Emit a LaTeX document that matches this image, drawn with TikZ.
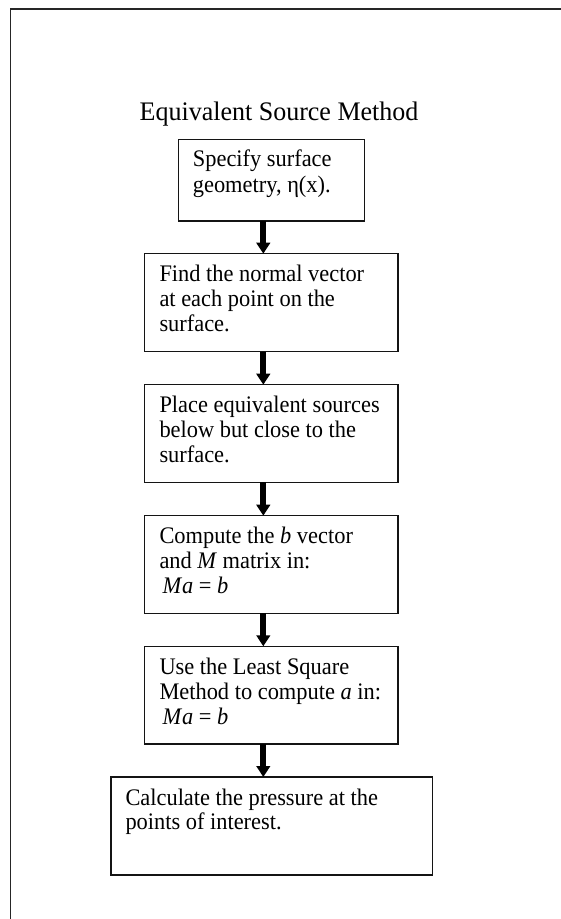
\documentclass[tikz,border=0pt]{standalone}
\usepackage{fontspec}
\setmainfont{Liberation Serif}
\usetikzlibrary{arrows.meta,calc}

% text lines set top-aligned, so the node's base is the first baseline
\newcommand{\steplines}[1]{\scalebox{1}[1.06]{\begin{tabular}[t]{@{}l@{}}#1\end{tabular}}}

\tikzset{
  stepbox/.style={draw=black!92, line width=1.2pt, inner sep=0pt, outer sep=0pt, anchor=north west},
  steptext/.style={anchor=base west, inner sep=0pt,
    font=\fontsize{22.4}{23.5}\selectfont},
  flow/.style={line width=6pt, black, -{Triangle[width=13.5pt,length=11pt]}},
}

\begin{document}
\begin{tikzpicture}[x=1pt, y=-1pt]
  \useasboundingbox (0,0) rectangle (561,919);
  \clip (0,0) rectangle (561,919);

  % outer frame (only its top and left edges fall on the page)
  \draw[line width=1.1pt, black!85] (10.5,940) -- (10.5,9) -- (580,9);

  % heading
  \node[anchor=base, inner sep=0pt, font=\fontsize{26}{30}\selectfont] (title) at (279,120.5) {\scalebox{1}[1.03]{Equivalent Source Method}};

  % process boxes
  \node[stepbox, minimum width=186.4pt, minimum height=81.7pt] (b1) at (178.3,139.3) {};
  \node[stepbox, minimum width=253.3pt, minimum height=98pt]   (b2) at (144.7,253.7) {};
  \node[stepbox, minimum width=253.3pt, minimum height=97.6pt] (b3) at (144.7,384.7) {};
  \node[stepbox, minimum width=253.3pt, minimum height=97.6pt] (b4) at (144.7,515.7) {};
  \node[stepbox, minimum width=253.3pt, minimum height=97.7pt] (b5) at (144.7,646.3) {};
  \node[stepbox, minimum width=321.3pt, minimum height=98pt]   (b6) at (111,777) {};

  % box texts
  \node[steptext] (t1) at ($(b1.north west)+(14.4,27.4)$) {\steplines{Specify surface\\[1.1pt]geometry, η(x).}};
  \node[steptext] (t2) at ($(b2.north west)+(14.6,28)$) {\steplines{Find the normal vector\\at each point on the\\surface.}};
  \node[steptext] (t3) at ($(b3.north west)+(14.6,28)$) {\steplines{Place equivalent sources\\below but close to the\\surface.}};
  \node[steptext] (t4) at ($(b4.north west)+(14.6,27.6)$) {\steplines{Compute the \textit{b} vector\\and \textit{M} matrix in:\\\hspace*{3pt}\textit{M\kern1pt a} = \textit{b}}};
  \node[steptext] (t5) at ($(b5.north west)+(14.6,28)$) {\steplines{Use the Least Square\\Method to compute \textit{a} in:\\\hspace*{3pt}\textit{M\kern1pt a} = \textit{b}}};
  \node[steptext] (t6) at ($(b6.north west)+(14.3,28)$) {\steplines{Calculate the pressure at the\\points of interest.}};

  % connectors
  \coordinate (ax) at (263.3,0);
  \draw[flow] (b1.south -| ax) -- (b2.north -| ax);
  \draw[flow] (b2.south -| ax) -- (b3.north -| ax);
  \draw[flow] (b3.south -| ax) -- (b4.north -| ax);
  \draw[flow] (b4.south -| ax) -- (b5.north -| ax);
  \draw[flow] (b5.south -| ax) -- (b6.north -| ax);
\end{tikzpicture}
\end{document}
